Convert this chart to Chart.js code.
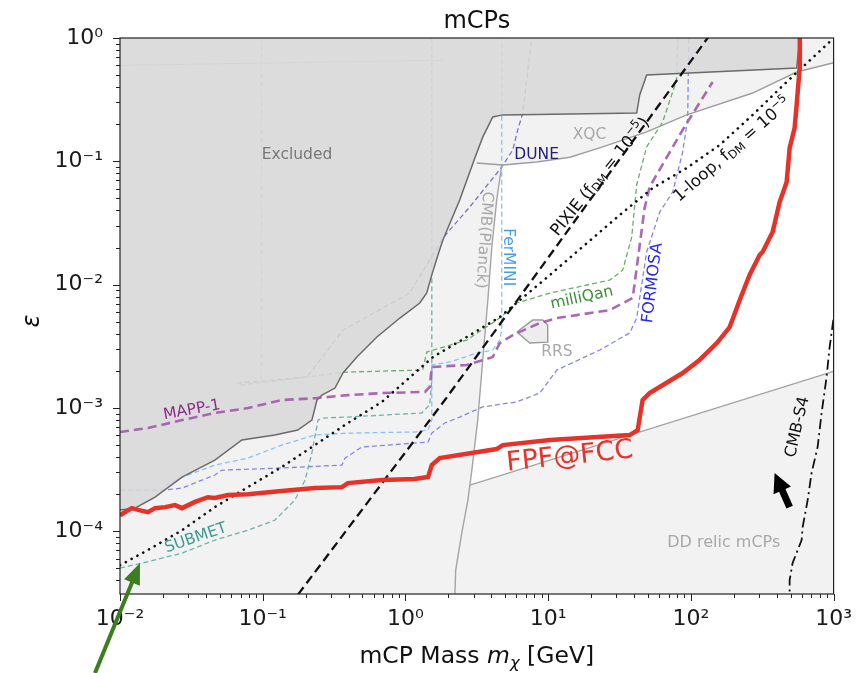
<!DOCTYPE html>
<html lang="en">
<head>
<meta charset="UTF-8">
<title>mCPs</title>
<script src="https://cdn.jsdelivr.net/npm/chart.js"></script>
<style>
  body { margin: 0; background: #fff; }
  canvas { display: block; }
</style>
</head>
<body>
<canvas id="mcpChart" width="856" height="673"></canvas>
<script>
// axis ticks
const xTicks = [1e-2, 1e-1, 1, 10, 100, 1000];
const xTickLabels = ['10⁻²', '10⁻¹', '10⁰', '10¹', '10²', '10³'];
const yTicks = [1e-4, 1e-3, 1e-2, 1e-1, 1];
const yTickLabels = ['10⁻⁴', '10⁻³', '10⁻²', '10⁻¹', '10⁰'];

// curves, each point is [mass m_chi in GeV, epsilon]
const excludedEdge = [[0.01,1.49e-4],[0.0127,1.54e-4],[0.0176,1.89e-4],[0.0272,2.75e-4],[0.0462,3.78e-4],
  [0.0715,5.5e-4],[0.1216,6.03e-4],[0.176,6.62e-4],[0.221,7.97e-4],[0.24,1.16e-3],[0.26,1.27e-3],
  [0.321,1.45e-3],[0.365,1.92e-3],[0.457,2.59e-3],[0.631,3.76e-3],[0.914,5.36e-3],[1.26,7.1e-3],
  [1.41,8.55e-3],[1.53,0.012],[1.69,0.0174],[1.83,0.023],[2.40,0.0485],[3.06,0.106],[3.48,0.157],
  [4.09,0.229],[4.81,0.238],[41.7,0.246],[43.8,0.345],[49,0.501],[551,0.571],[580,1]];
const xqcLine = [[3.16,0.0969],[4.81,0.0933],[8.32,0.0987],[14.2,0.108],[24.1,0.131],[49,0.173],
  [93.5,0.238],[271,0.358],[551,0.53],[1000,0.63]];
const cmbPlanck = [[4.73,0.0933],[4.36,0.0485],[4.03,0.0202],[3.78,7.5e-3],[3.48,2.45e-3],[3.21,7.97e-4],
  [2.92,3.13e-4],[2.74,1.79e-4],[2.48,9.67e-5],[2.25,4.84e-5],[2.22,3.1e-5],[2.22,2e-5]];
const ddRelic = [[2.83,2.37e-4],[1000,1.98e-3]];
const rrs = [[6.03,4.13e-3],[7.8,5.16e-3],[9.16,5.16e-3],[9.93,4.7e-3],[9.93,3.42e-3],[7.43,3.36e-3],[6.03,4.13e-3]];
const faintTop = [[0.01,0.6],[1.83,0.66]];
const faintVert = [[0.098,1.7e-3],[0.098,1]];

const fpfFcc = [[0.01,1.35e-4],[0.0121,1.54e-4],[0.0134,1.49e-4],[0.0157,1.43e-4],[0.0176,1.54e-4],
  [0.0207,1.57e-4],[0.0243,1.63e-4],[0.0272,1.54e-4],[0.0335,1.73e-4],[0.0413,1.89e-4],[0.0462,1.86e-4],
  [0.057,1.97e-4],[0.0787,2.0e-4],[0.136,2.12e-4],[0.232,2.24e-4],[0.359,2.28e-4],[0.395,2.46e-4],
  [0.684,2.6e-4],[1.16,2.65e-4],[1.44,2.75e-4],[1.53,3.44e-4],[1.74,3.92e-4],[4.36,4.64e-4],[4.81,5.0e-4],
  [10.3,5.5e-4],[37.2,6.03e-4],[42.4,6.62e-4],[45.9,1.16e-3],[51.4,1.32e-3],[87.6,1.92e-3],[115,2.45e-3],
  [152,3.36e-3],[187,4.53e-3],[220,7.5e-3],[258,0.012],[303,0.0174],[318,0.0184],[374,0.0267],
  [419,0.0468],[469,0.068],[492,0.128],[533,0.186],[551,0.286],[578,0.571],[580,1.05]];
const pixie = [[0.154,2.5e-5],[0.182,3.21e-5],[1.89,1.16e-3],[131,1.0],[141,1.12]];
const oneLoop = [[0.01,5.3e-5],[0.0157,7.05e-5],[0.0272,1.02e-4],[0.0462,1.57e-4],[0.0787,2.28e-4],
  [0.136,3.32e-4],[0.232,5.0e-4],[0.395,7.55e-4],[0.684,1.12e-3],[1.56,2.59e-3],[2.69,3.76e-3],
  [4.58,5.46e-3],[10.3,0.012],[31.7,0.0367],[54,0.0607],[93.5,0.0883],[159,0.1355],[271,0.238],
  [469,0.44],[938,0.93],[1000,1.0]];
const cmbS4 = [[492,2.5e-5],[492,4.02e-5],[516,5.52e-5],[597,8.48e-5],[607,1.08e-4],[658,1.79e-4],
  [701,2.97e-4],[773,4.82e-4],[824,9.1e-4],[893,1.78e-3],[938,3.12e-3],[1000,5.36e-3]];
const mapp1 = [[0.01,6.38e-4],[0.0157,6.87e-4],[0.0272,7.97e-4],[0.0462,9.1e-4],[0.0787,9.98e-4],
  [0.136,1.16e-3],[0.232,1.20e-3],[0.395,1.27e-3],[0.684,1.32e-3],[1.37,1.35e-3],[1.48,1.48e-3],
  [1.53,2.15e-3],[2.69,2.23e-3],[4.09,2.59e-3],[4.58,3.36e-3],[5.65,3.9e-3],[8.73,4.88e-3],[11.5,5.36e-3],
  [27,6.22e-3],[39.1,7.79e-3],[41.7,0.0136],[47.4,0.0418],[51.4,0.062],[87.6,0.18],[142,0.44]];
const milliQan = [[0.0692,1.53e-3],[0.182,1.75e-3],[0.365,1.95e-3],[1.32,2.03e-3],[1.41,2.84e-3],
  [2.69,3.55e-3],[4.58,5.36e-3],[6.03,7.1e-3],[10.3,8.55e-3],[27,0.0109],[33.3,0.0131],[38.5,0.0243],
  [41.7,0.0643],[49,0.131],[63.4,0.208],[79.4,0.456],[80.9,1.0]];
const submet = [[0.01,5.03e-5],[0.01426,5.52e-5],[0.0272,6.65e-5],[0.0462,8.48e-5],[0.0787,1.02e-4],
  [0.1216,1.23e-4],[0.168,1.79e-4],[0.198,2.6e-4],[0.221,4.31e-4],[0.244,7.97e-4],[0.26,8.28e-4],
  [0.395,8.44e-4],[1.30,9.1e-4],[1.48,1.06e-3],[1.53,1.68e-3],[1.53,1.0]];
const ferMini = [[0.0207,2.37e-4],[0.0272,2.75e-4],[0.0462,3.44e-4],[0.0787,3.92e-4],[0.136,5.0e-4],
  [0.232,6.03e-4],[0.395,6.25e-4],[1.16,6.38e-4],[1.44,6.62e-4],[1.53,7.97e-4],[1.53,2.23e-3],
  [2.05,2.36e-3],[3.16,2.79e-3],[4.09,2.95e-3],[4.58,3.55e-3],[4.73,4.28e-3],[4.73,1.0]];
const formosa = [[0.01,2.16e-4],[0.0207,2.16e-4],[0.0272,2.24e-4],[0.0462,2.86e-4],[0.0518,3.13e-4],
  [0.136,3.26e-4],[0.359,3.44e-4],[0.377,3.92e-4],[0.495,4.82e-4],[1.44,5.29e-4],[1.53,6.25e-4],
  [1.89,7.55e-4],[2.40,8.44e-4],[3.48,1.02e-3],[6.03,1.12e-3],[8.73,1.32e-3],[11.5,2.03e-3],[23,2.95e-3],
  [37.2,4.05e-3],[41.7,5.36e-3],[49,0.0184],[60.5,0.0388],[74.6,0.0564],[87.6,0.119],[95,0.224],[96.6,1.0]];
const dune = [[0.066,1.59e-3],[0.204,1.78e-3],[0.365,4.28e-3],[1.07,8.55e-3],[1.83,0.0239],[2.82,0.0426],
  [4.73,0.0899],[5.65,0.1235],[6.12,0.1795],[6.64,0.246],[7.67,1.0]];

// annotations: [mass, epsilon] anchors
const labels = [
  {parts: [['Excluded']], at: [0.174, 0.1125], color: '#787878', size: 15.5, rot: 0},
  {parts: [['XQC']], at: [19.5, 0.163], color: '#a8a8a8', size: 15.5, rot: 0},
  {parts: [['DUNE']], at: [8.3, 0.1125], color: '#20207e', size: 15.5, rot: 0},
  {parts: [['CMB(Planck)']], at: [3.54, 0.023], color: '#a8a8a8', size: 15.5, rot: 94},
  {parts: [['FerMINI']], at: [5.21, 0.0167], color: '#4a9be8', size: 15.5, rot: 90},
  {parts: [['PIXIE (f'], ['DM', 0.7, 0.25], [' = 10'], ['−5', 0.7, -0.35], [')']], at: [23.3, 0.0746], color: '#111', size: 16.5, rot: -51},
  {parts: [['1-loop, f'], ['DM', 0.7, 0.25], [' = 10'], ['−5', 0.7, -0.35]], at: [196, 0.1235], color: '#111', size: 16.5, rot: -41},
  {parts: [['milliQan']], at: [17.2, 7.79e-3], color: '#3c8f3c', size: 15.5, rot: -12},
  {parts: [['FORMOSA']], at: [54, 0.0103], color: '#2a2ae6', size: 16, rot: -83},
  {parts: [['RRS']], at: [11.5, 2.84e-3], color: '#a8a8a8', size: 15.5, rot: 0},
  {parts: [['MAPP-1']], at: [0.0319, 9.6e-4], color: '#8a2f8a', size: 15.5, rot: -10},
  {parts: [['SUBMET']], at: [0.034, 8.8e-5], color: '#3b9b90', size: 15.5, rot: -19},
  {parts: [['FPF@FCC']], at: [14.2, 4.0e-4], color: '#e5332a', size: 27, rot: -6},
  {parts: [['CMB-S4']], at: [560, 7.0e-4], color: '#111', size: 16, rot: -77},
  {parts: [['DD relic mCPs']], at: [170, 8.0e-5], color: '#a8a8a8', size: 16, rot: 0}
];
const blackArrow = [[492, 1.57e-4], [386, 2.97e-4]];
const greenArrow = [[6.68e-3, 7.08e-6], [0.0138, 5.52e-5]];

const fontFam = '"DejaVu Sans", sans-serif';

// white (allowed) region: CMB(Planck) up, along XQC, down the right edge, back along DD relic
const whiteRegion = cmbPlanck.filter(p => p[1] > 2.4e-4).reverse()
  .concat(xqcLine.filter(p => p[0] > 4.75))
  .concat(ddRelic.slice().reverse());

function ds(name, pts, opts) {
  return Object.assign({
    label: name,
    data: pts.map(p => ({x: p[0], y: p[1]})),
    showLine: true,
    pointRadius: 0,
    borderWidth: 1.3,
    fill: false,
    tension: 0
  }, opts);
}

function richText(ctx, parts, size, color, baseline) {
  let w = 0;
  const segs = parts.map(p => {
    const s = size * (p[1] || 1);
    const f = (p[3] ? p[3] + ' ' : '') + s + 'px ' + fontFam;
    ctx.font = f;
    const sw = ctx.measureText(p[0]).width;
    w += sw;
    return {t: p[0], f, sw, dy: (p[2] || 0) * size};
  });
  let x = -w / 2;
  ctx.fillStyle = color;
  ctx.textBaseline = baseline || 'middle';
  ctx.textAlign = 'left';
  segs.forEach(g => { ctx.font = g.f; ctx.fillText(g.t, x, g.dy); x += g.sw; });
}

function arrow(ctx, x0, y0, x1, y1, shaft, headW, headL, color) {
  const a = Math.atan2(y1 - y0, x1 - x0), len = Math.hypot(x1 - x0, y1 - y0);
  ctx.save();
  ctx.translate(x0, y0);
  ctx.rotate(a);
  ctx.fillStyle = color;
  ctx.beginPath();
  ctx.moveTo(0, -shaft / 2);
  ctx.lineTo(len - headL, -shaft / 2);
  ctx.lineTo(len - headL, -headW / 2);
  ctx.lineTo(len, 0);
  ctx.lineTo(len - headL, headW / 2);
  ctx.lineTo(len - headL, shaft / 2);
  ctx.lineTo(0, shaft / 2);
  ctx.closePath();
  ctx.fill();
  ctx.restore();
}

const decor = {
  id: 'decor',
  beforeDraw(chart) {
    const {ctx, chartArea: a} = chart;
    ctx.save();
    ctx.fillStyle = '#f2f2f2';
    ctx.fillRect(a.left, a.top, a.right - a.left, a.bottom - a.top);
    ctx.restore();
  },
  afterDatasetsDraw(chart) {
    const {ctx, scales: {x, y}} = chart;
    labels.forEach(l => {
      ctx.save();
      ctx.translate(x.getPixelForValue(l.at[0]), y.getPixelForValue(l.at[1]));
      ctx.rotate(l.rot * Math.PI / 180);
      richText(ctx, l.parts, l.size, l.color);
      ctx.restore();
    });
  },
  afterDraw(chart) {
    const {ctx, chartArea: a, scales: {x, y}} = chart;
    ctx.save();
    // frame
    ctx.strokeStyle = '#222';
    ctx.lineWidth = 1.2;
    ctx.strokeRect(a.left, a.top, a.right - a.left, a.bottom - a.top);
    // tick marks, major and minor
    ctx.beginPath();
    for (let n = -2; n <= 3; n++) {
      for (let k = 1; k <= 9; k++) {
        const v = k * Math.pow(10, n);
        if (v < x.min || v > x.max) continue;
        const px = Math.round(x.getPixelForValue(v)) + 0.5;
        ctx.moveTo(px, a.bottom);
        ctx.lineTo(px, a.bottom + (k === 1 ? 7 : 4));
      }
    }
    for (let n = -5; n <= 0; n++) {
      for (let k = 1; k <= 9; k++) {
        const v = k * Math.pow(10, n);
        if (v < y.min || v > y.max) continue;
        const py = Math.round(y.getPixelForValue(v)) + 0.5;
        ctx.moveTo(a.left, py);
        ctx.lineTo(a.left - (k === 1 ? 7 : 4), py);
      }
    }
    ctx.lineWidth = 1;
    ctx.stroke();
    // titles
    ctx.translate((a.left + a.right) / 2, 28);
    richText(ctx, [['mCPs']], 24, '#111', 'alphabetic');
    ctx.restore();
    ctx.save();
    ctx.translate((a.left + a.right) / 2, 663);
    richText(ctx, [['mCP Mass '], ['m', 1, 0, 'italic'], ['χ', 0.7, 0.22, 'italic'], [' [GeV]']], 23.5, '#111', 'alphabetic');
    ctx.restore();
    ctx.save();
    ctx.translate(33, 321);
    ctx.rotate(-Math.PI / 2);
    richText(ctx, [['ε', 1, 0, 'italic']], 24, '#111');
    ctx.restore();
    // arrows
    arrow(ctx, x.getPixelForValue(blackArrow[0][0]), y.getPixelForValue(blackArrow[0][1]),
      x.getPixelForValue(blackArrow[1][0]), y.getPixelForValue(blackArrow[1][1]), 7, 19, 19, '#000');
    arrow(ctx, x.getPixelForValue(greenArrow[0][0]), y.getPixelForValue(greenArrow[0][1]),
      x.getPixelForValue(greenArrow[1][0]), y.getPixelForValue(greenArrow[1][1]), 4, 17, 21, '#3e7d1f');
  }
};

const thin = [5, 3];
new Chart(document.getElementById('mcpChart'), {
  type: 'scatter',
  data: {
    datasets: [
      ds('FPF@FCC', fpfFcc, {borderColor: '#e5332a', borderWidth: 4.5, order: 10}),
      ds('PIXIE', pixie, {borderColor: '#111', borderWidth: 2.3, borderDash: [9, 5], order: 40}),
      ds('1-loop', oneLoop, {borderColor: '#111', borderWidth: 2.6, borderDash: [0.1, 6.5], borderCapStyle: 'round', order: 40}),
      ds('CMB-S4', cmbS4, {borderColor: '#111', borderWidth: 1.8, borderDash: [10, 4, 2, 4], order: 40}),
      ds('MAPP-1', mapp1, {borderColor: 'rgba(160,90,168,0.9)', borderWidth: 2.6, borderDash: [9, 5], order: 50}),
      ds('XQC', xqcLine, {borderColor: '#9e9e9e', borderWidth: 1.4, order: 60}),
      ds('CMB(Planck)', cmbPlanck, {borderColor: '#a4a4a4', borderWidth: 1.4, order: 60}),
      ds('DD relic', ddRelic, {borderColor: '#a4a4a4', borderWidth: 1.4, order: 60}),
      ds('RRS', rrs, {borderColor: '#9a9a9a', borderWidth: 1.4, backgroundColor: '#ededed', fill: 'shape', order: 60}),
      ds('Excluded', excludedEdge, {borderColor: '#6b6b6b', borderWidth: 1.5, backgroundColor: 'rgba(216,216,216,0.86)', fill: 'end', order: 70}),
      ds('milliQan', milliQan, {borderColor: '#6aae6a', borderDash: thin, order: 80}),
      ds('SUBMET', submet, {borderColor: '#6db3ab', borderDash: thin, order: 80}),
      ds('FerMINI', ferMini, {borderColor: '#8cc1f0', borderDash: thin, order: 80}),
      ds('FORMOSA', formosa, {borderColor: '#8585ea', borderDash: thin, order: 80}),
      ds('DUNE', dune, {borderColor: '#7474cf', borderDash: thin, order: 80}),
      ds('faint top', faintTop, {borderColor: '#c4c4c4', borderWidth: 1.2, order: 90}),
      ds('faint vertical', faintVert, {borderColor: '#b4b4b4', borderWidth: 1.2, borderDash: [4, 3], order: 90}),
      ds('allowed', whiteRegion, {borderWidth: 0, backgroundColor: '#ffffff', fill: 'shape', order: 100})
    ]
  },
  options: {
    responsive: false,
    animation: false,
    devicePixelRatio: 1,
    events: [],
    layout: {padding: {top: 38, right: 22, left: 0, bottom: 0}},
    plugins: {legend: {display: false}, tooltip: {enabled: false}, title: {display: false}},
    scales: {
      x: {
        type: 'logarithmic', min: 0.01, max: 1000,
        grid: {display: false}, border: {display: false},
        afterFit: s => { s.height = 79; },
        afterBuildTicks: s => { s.ticks = xTicks.map(v => ({value: v})); },
        ticks: {
          autoSkip: false, maxRotation: 0, padding: 4, color: '#1a1a1a',
          font: {family: fontFam, size: 22},
          callback: v => { const i = xTicks.indexOf(v); return i >= 0 ? xTickLabels[i] : ''; }
        }
      },
      y: {
        type: 'logarithmic', min: 3.1e-5, max: 1,
        grid: {display: false}, border: {display: false},
        afterFit: s => { s.width = 120; },
        afterBuildTicks: s => { s.ticks = yTicks.map(v => ({value: v})); },
        ticks: {
          autoSkip: false, padding: 9, color: '#1a1a1a',
          font: {family: fontFam, size: 22},
          callback: v => { const i = yTicks.indexOf(v); return i >= 0 ? yTickLabels[i] : ''; }
        }
      }
    }
  },
  plugins: [decor]
});
</script>
</body>
</html>
